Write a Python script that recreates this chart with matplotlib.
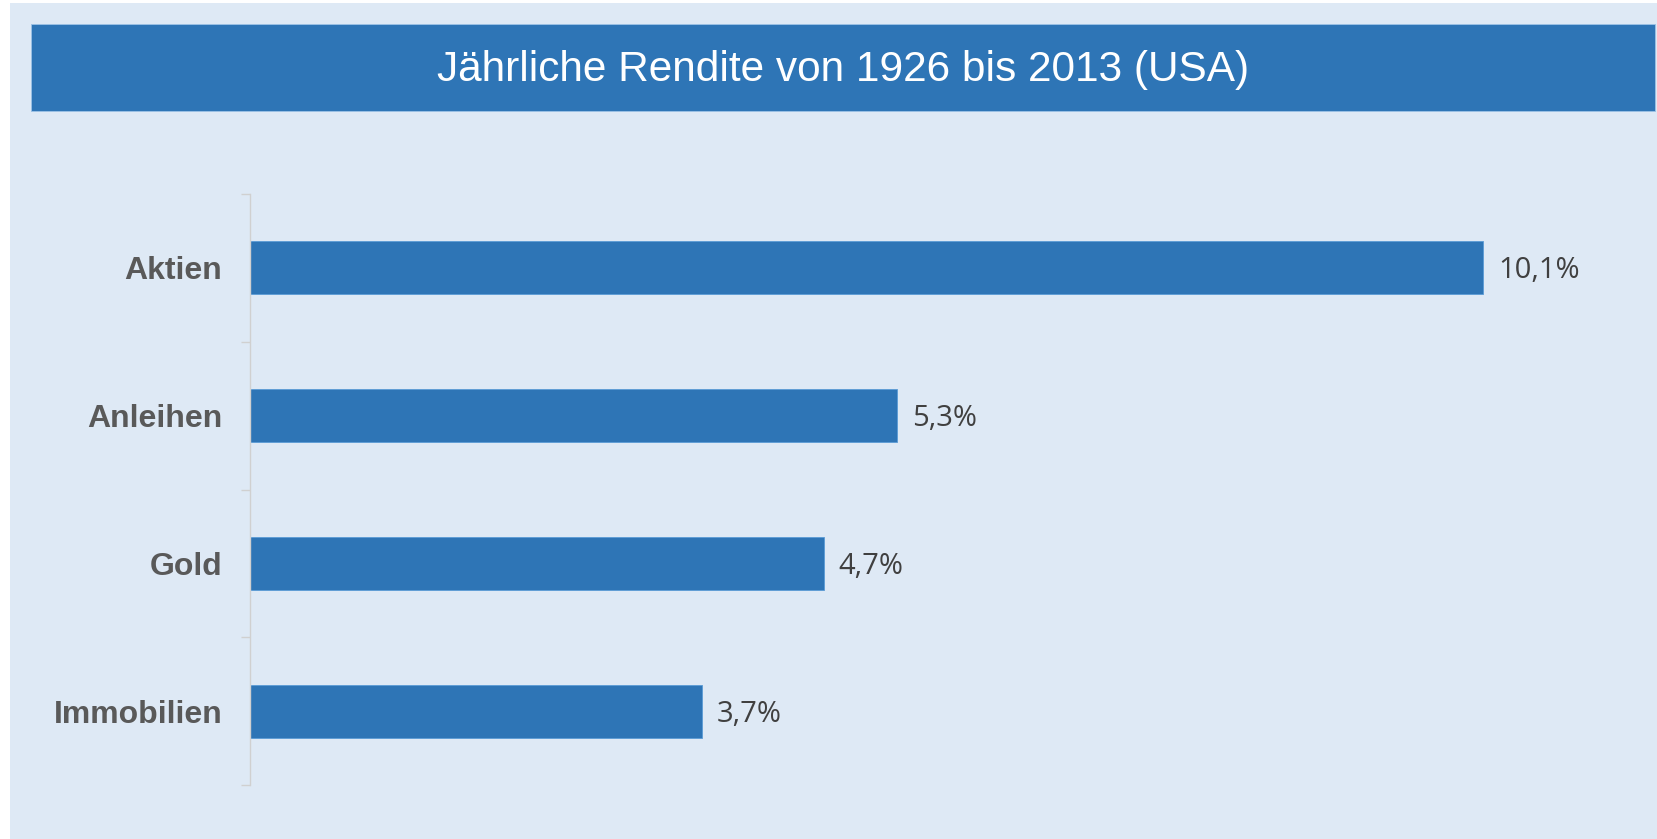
import matplotlib.pyplot as plt
from matplotlib.patches import Rectangle

# Daten
kategorien = ['Aktien', 'Anleihen', 'Gold', 'Immobilien']
rendite = [10.1, 5.3, 4.7, 3.7]
beschriftung = ['10,1%', '5,3%', '4,7%', '3,7%']
titel = 'Jährliche Rendite von 1926 bis 2013 (USA)'

blau = '#2E75B6'
hintergrund = '#DEE9F5'

W, H = 1657, 839
fig = plt.figure(figsize=(W / 100, H / 100), dpi=100)
fig.patch.set_facecolor('white')

# heller Hintergrund (oben/links kleiner weisser Rand)
fig.patches.append(Rectangle((10 / W, 0), 1 - 10 / W, 1 - 3 / H, transform=fig.transFigure,
                             facecolor=hintergrund, edgecolor='none', zorder=0))
# Titelbalken
fig.patches.append(Rectangle((31 / W, 1 - 111 / H), (1655 - 31) / W, 87 / H, transform=fig.transFigure,
                             facecolor=blau, edgecolor='#9DC3E6', linewidth=0.6, zorder=1))
fig.text(843 / W, 1 - 70 / H, titel, color='white', fontsize=30.5, ha='center', va='center',
         family='Liberation Sans')

# Diagrammbereich
x_rechts = 1620
ax = fig.add_axes([250 / W, (H - 785) / H, (x_rechts - 250) / W, (785 - 194) / H])
ax.set_zorder(5)
ax.set_facecolor('none')
pos = list(range(len(kategorien)))
ax.barh(pos, rendite, height=0.36, color=blau, edgecolor='#5B9BD5', linewidth=0.6)
ax.set_xlim(0, (x_rechts - 250) / 122.1)
ax.set_ylim(len(kategorien) - 0.5, -0.5)

for p, v, t in zip(pos, rendite, beschriftung):
    ax.text(v + 0.12, p + 0.02, t, va='center', ha='left', fontsize=21, color='#404040', family='Open Sans')

for s in ['top', 'right', 'bottom']:
    ax.spines[s].set_visible(False)
ax.spines['left'].set_color('#D0D0D0')
ax.spines['left'].set_linewidth(1)
ax.set_xticks([])
ax.set_yticks(pos)
ax.set_yticklabels(kategorien, fontsize=23, fontweight='bold', color='#595959', family='Liberation Sans')
ax.tick_params(axis='y', which='major', length=0, pad=20)
ax.set_yticks([p - 0.5 for p in pos] + [len(kategorien) - 0.5], minor=True)
ax.tick_params(axis='y', which='minor', length=6.5, color='#D0D0D0', width=1)

fig.savefig('out.png', dpi=100, facecolor=fig.get_facecolor())
